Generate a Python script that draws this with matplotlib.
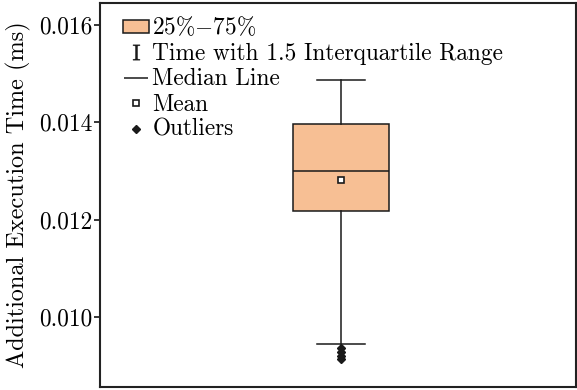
import matplotlib
matplotlib.use("Agg")
import matplotlib.pyplot as plt
from matplotlib.patches import Patch
from matplotlib.lines import Line2D

plt.rcParams['font.family'] = 'serif'
plt.rcParams['font.serif'] = ['cmr10']
plt.rcParams['mathtext.fontset'] = 'cm'
plt.rcParams['axes.formatter.use_mathtext'] = True

# box statistics (ms)
q1 = 0.01217
q3 = 0.01397
median = 0.0130
mean = 0.01281
whisker_low = 0.009445
whisker_high = 0.014869
outliers = [0.00936, 0.00928, 0.00920, 0.00914]

yticks = [0.010, 0.012, 0.014, 0.016]
ytick_labels = ['0.010', '0.012', '0.014', '0.016']
legend_labels = [r'$\mathrm{25\%{-}75\%}$', 'Time with 1.5 Interquartile Range',
                 'Median Line', 'Mean', 'Outliers']

box_color = '#F7BF94'
ink = '#1a1a1a'

fig = plt.figure(figsize=(5.77, 3.9), dpi=100)
ax = fig.add_axes([100/577, 3/390, 476/577, 384/390])

stats = [dict(med=median, q1=q1, q3=q3, whislo=whisker_low,
              whishi=whisker_high, mean=mean, fliers=outliers)]
ax.bxp(stats, positions=[1], widths=0.5, patch_artist=True, showmeans=True,
       capwidths=0.25,
       boxprops=dict(facecolor=box_color, edgecolor=ink, linewidth=1.1),
       medianprops=dict(color=ink, linewidth=1.1),
       whiskerprops=dict(color=ink, linewidth=1.1),
       capprops=dict(color=ink, linewidth=1.1),
       meanprops=dict(marker='s', markerfacecolor='white', markeredgecolor=ink,
                      markersize=4.2, markeredgewidth=1.2),
       flierprops=dict(marker='D', markerfacecolor=ink, markeredgecolor=ink,
                       markersize=3.6))

w = 476 / 96 * 0.5
ax.set_xlim(1 - 0.506 * w, 1 + 0.494 * w)
ax.set_ylim(0.008561, 0.016452)
ax.set_xticks([])
ax.set_yticks(yticks)
ax.set_yticklabels(ytick_labels)
ax.tick_params(axis='y', labelsize=16.8, direction='out', length=4, width=1.1, pad=1.5)
ax.set_ylabel('Additional Execution Time (ms)', fontsize=17.5, labelpad=6)
for s in ax.spines.values():
    s.set_linewidth(1.5)
    s.set_color('#222222')

handles = [
    Patch(facecolor=box_color, edgecolor=ink, linewidth=1.1),
    Line2D([], [], linestyle='none', marker=r'$\mathrm{I}$', color=ink, markersize=11,
           markeredgewidth=0.3),
    Line2D([], [], linestyle='none', marker='_', color=ink, markersize=17,
           markeredgewidth=1.1),
    Line2D([], [], linestyle='none', marker='s', markerfacecolor='white',
           markeredgecolor=ink, markersize=4.2, markeredgewidth=1.2),
    Line2D([], [], linestyle='none', marker='D', color=ink, markersize=3.6),
]
ax.legend(handles, legend_labels, loc='upper left', frameon=False, fontsize=16.8,
          handlelength=1.1, handleheight=0.47, handletextpad=0.17, labelspacing=0.14,
          borderpad=0, borderaxespad=0, bbox_to_anchor=(0.048, 0.967))

fig.savefig('out.png', dpi=100)
